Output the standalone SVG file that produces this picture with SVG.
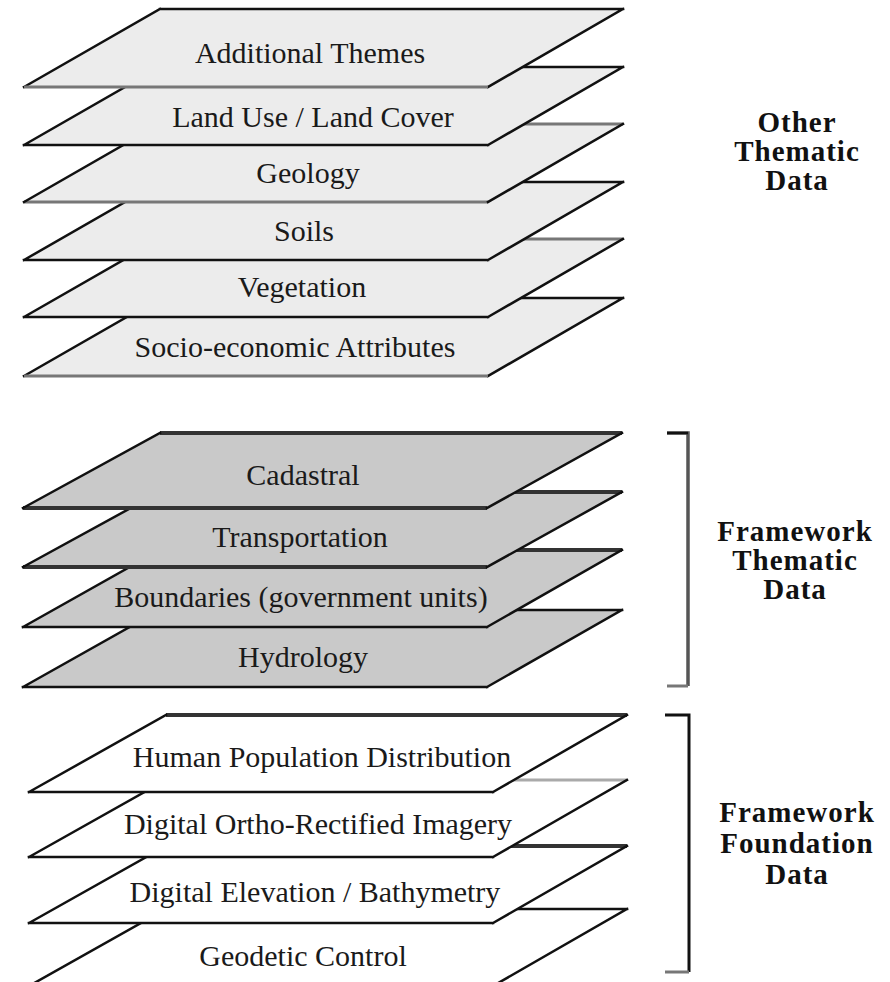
<svg xmlns="http://www.w3.org/2000/svg" width="890" height="982" viewBox="0 0 890 982">
<style>
.g1{fill:#ececec}
.g2{fill:#c9c9c9}
.g3{fill:#ffffff}
.e{stroke:#111;stroke-width:2.5;fill:none;stroke-linecap:square}
.eg{stroke:#777;stroke-width:3;fill:none}
.ed{stroke:#333;stroke-width:4;fill:none}
.el{stroke:#aaa;stroke-width:3;fill:none}
.t{font-family:"Liberation Serif","DejaVu Serif",serif;font-size:30px;fill:#1a1a1a;text-anchor:middle}
.r{font-family:"Liberation Serif","DejaVu Serif",serif;font-size:29px;font-weight:bold;fill:#111;text-anchor:middle;letter-spacing:1px}
</style>
<rect width="890" height="982" fill="#ffffff"/>

<!-- Group 1: Other Thematic Data (drawn bottom-up) -->
<g id="socio">
<polygon class="g1" points="160,298 623,298 488,376 24,376"/>
<path class="e" d="M160,298 H623 M160,298 L24,376 M623,298 L488,376"/>
<path class="eg" d="M24,376 H488"/>
<text class="t" x="295" y="357">Socio-economic Attributes</text>
</g>
<g id="vegetation">
<polygon class="g1" points="160,239 623,239 488,317 24,317"/>
<path class="eg" d="M160,239 H623"/>
<path class="e" d="M160,239 L24,317 M623,239 L488,317 M24,317 H488"/>
<text class="t" x="302" y="297">Vegetation</text>
</g>
<g id="soils">
<polygon class="g1" points="160,182 623,182 488,260 24,260"/>
<path class="e" d="M160,182 H623 M160,182 L24,260 M623,182 L488,260 M24,260 H488"/>
<text class="t" x="304" y="241">Soils</text>
</g>
<g id="geology">
<polygon class="g1" points="160,124 623,124 488,202 24,202"/>
<path class="eg" d="M160,124 H623 M24,202 H488"/>
<path class="e" d="M160,124 L24,202 M623,124 L488,202"/>
<text class="t" x="308" y="183">Geology</text>
</g>
<g id="landuse">
<polygon class="g1" points="160,67 623,67 488,145 24,145"/>
<path class="e" d="M160,67 H623 M160,67 L24,145 M623,67 L488,145 M24,145 H488"/>
<text class="t" x="313" y="127">Land Use / Land Cover</text>
</g>
<g id="additional">
<polygon class="g1" points="160,9 623,9 488,87 24,87"/>
<path class="e" d="M160,9 H623 M160,9 L24,87 M623,9 L488,87"/>
<path class="eg" d="M24,87 H488"/>
<text class="t" x="310" y="63">Additional Themes</text>
</g>

<!-- Group 2: Framework Thematic Data -->
<g id="hydrology">
<polygon class="g2" points="160,610 622,610 487,687 23,687"/>
<path class="e" d="M160,610 H622 M160,610 L23,687 M622,610 L487,687 M23,687 H487"/>
<text class="t" x="303" y="667">Hydrology</text>
</g>
<g id="boundaries">
<polygon class="g2" points="160,550 622,550 487,627 23,627"/>
<path class="ed" d="M160,550 H622"/>
<path class="e" d="M160,550 L23,627 M622,550 L487,627 M23,627 H487"/>
<text class="t" x="301" y="607">Boundaries (government units)</text>
</g>
<g id="transportation">
<polygon class="g2" points="160,492 622,492 487,567 23,567"/>
<path class="ed" d="M160,492 H622 M23,567 H487"/>
<path class="e" d="M160,492 L23,567 M622,492 L487,567"/>
<text class="t" x="300" y="547">Transportation</text>
</g>
<g id="cadastral">
<polygon class="g2" points="160,433 622,433 487,508 23,508"/>
<path class="ed" d="M160,433 H622 M23,508 H487"/>
<path class="e" d="M160,433 L23,508 M622,433 L487,508"/>
<text class="t" x="303" y="485">Cadastral</text>
</g>

<!-- Group 3: Framework Foundation Data -->
<g id="geodetic">
<polygon class="g3" points="166,909 627,909 493,986 29,986"/>
<path class="e" d="M166,909 H627 M166,909 L29,986 M627,909 L493,986"/>
<text class="t" x="303" y="966">Geodetic Control</text>
</g>
<g id="elevation">
<polygon class="g3" points="166,846 627,846 493,923 29,923"/>
<path class="ed" d="M166,846 H627"/>
<path class="e" d="M166,846 L29,923 M627,846 L493,923 M29,923 H493"/>
<text class="t" x="315" y="902">Digital Elevation / Bathymetry</text>
</g>
<g id="ortho">
<polygon class="g3" points="166,780 627,780 493,857 29,857"/>
<path class="el" d="M166,780 H627"/>
<path class="e" d="M166,780 L29,857 M627,780 L493,857 M29,857 H493"/>
<text class="t" x="318" y="834">Digital Ortho-Rectified Imagery</text>
</g>
<g id="human">
<polygon class="g3" points="166,715 627,715 493,792 29,792"/>
<path class="ed" d="M166,715 H627"/>
<path class="e" d="M166,715 L29,792 M627,715 L493,792 M29,792 H493"/>
<text class="t" x="322" y="767">Human Population Distribution</text>
</g>

<!-- Brackets -->
<g id="brackets">
<path d="M667,433 H688 V686" stroke="#555" stroke-width="3.5" fill="none"/>
<path d="M667,433 H688" stroke="#111" stroke-width="2.5" fill="none"/>
<path d="M667,686 H688" stroke="#777" stroke-width="3" fill="none"/>
<path d="M665,715 H689 V972" stroke="#111" stroke-width="3" fill="none"/>
<path d="M665,972 H689" stroke="#777" stroke-width="3" fill="none"/>
</g>

<!-- Group labels -->
<g id="label-other">
<text class="r" x="797" y="132">Other</text>
<text class="r" x="797" y="161">Thematic</text>
<text class="r" x="797" y="190">Data</text>
</g>
<g id="label-framework-thematic">
<text class="r" x="795" y="541">Framework</text>
<text class="r" x="795" y="570">Thematic</text>
<text class="r" x="795" y="599">Data</text>
</g>
<g id="label-framework-foundation">
<text class="r" x="797" y="822">Framework</text>
<text class="r" x="797" y="853">Foundation</text>
<text class="r" x="797" y="884">Data</text>
</g>
</svg>
